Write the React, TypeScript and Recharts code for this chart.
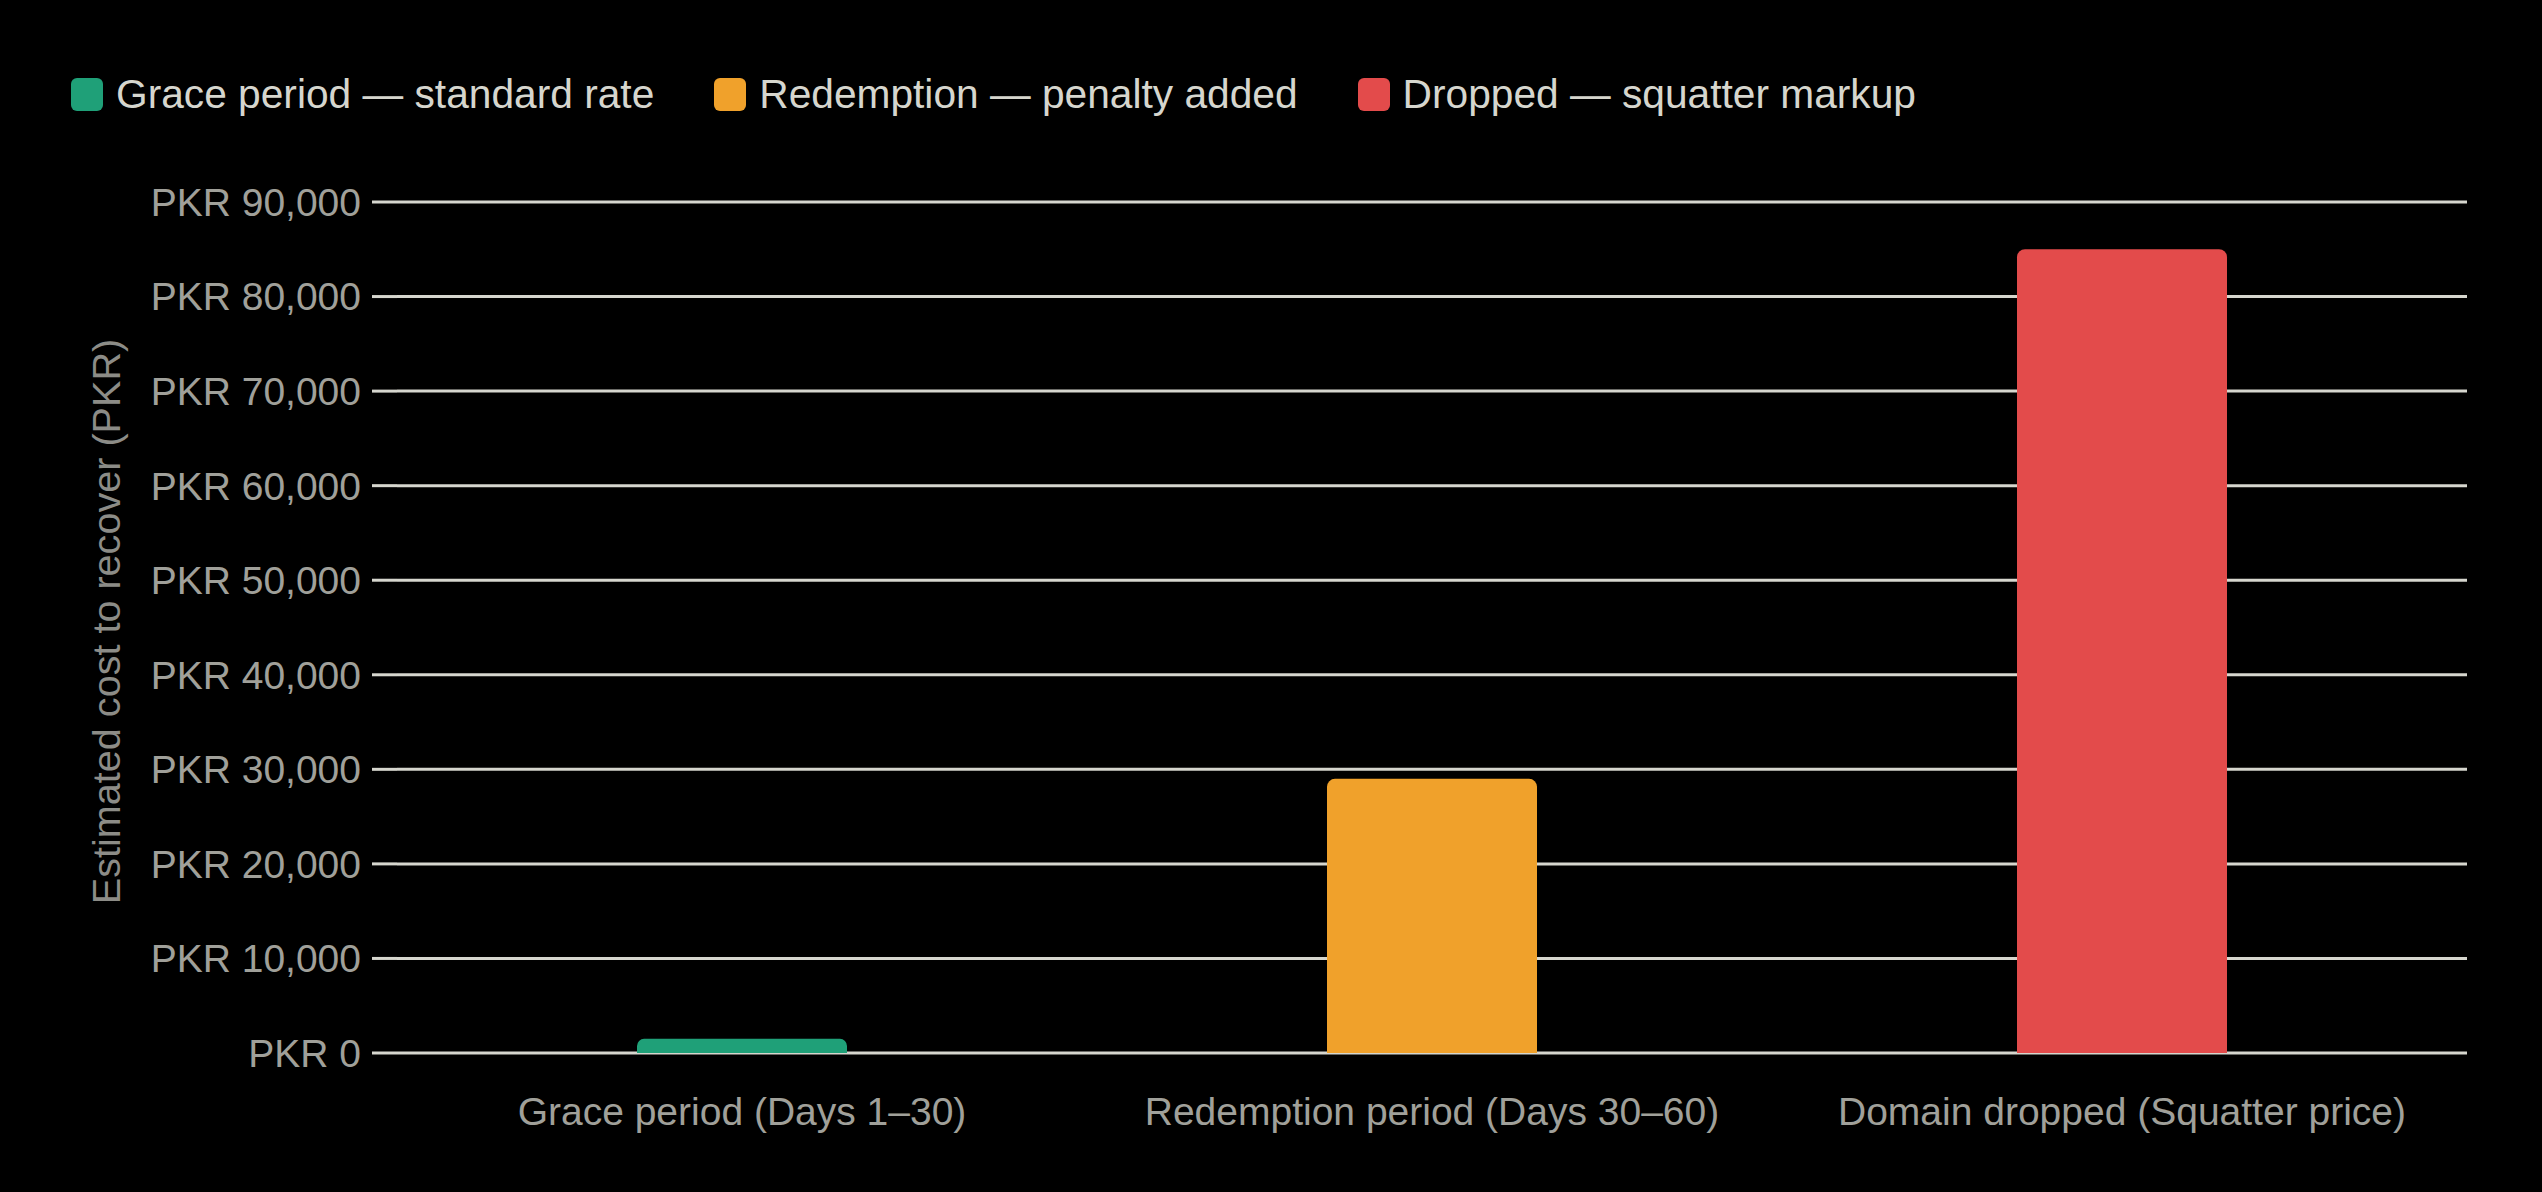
import React from 'react';
import { BarChart, Bar, XAxis, YAxis, CartesianGrid, Legend } from 'recharts';

const stages = [
  'Grace period (Days 1–30)',
  'Redemption period (Days 30–60)',
  'Domain dropped (Squatter price)',
];
const seriesKeys = ['grace', 'redemption', 'dropped'];
const seriesNames = [
  'Grace period — standard rate',
  'Redemption — penalty added',
  'Dropped — squatter markup',
];
const seriesColors = ['#1fa078', '#f0a12b', '#e34b4b'];
// estimated cost (PKR) for each stage
const recoveryCost = [1500, 29000, 85000];
const yTicks = [0, 10000, 20000, 30000, 40000, 50000, 60000, 70000, 80000, 90000];

// one row per stage, the value only sits in that stage's own series
const data = stages.map((stage, i) => {
  const row: Record<string, string | number> = { stage };
  seriesKeys.forEach((key, j) => {
    row[key] = i === j ? recoveryCost[i] : 0;
  });
  return row;
});

const FONT = '"Liberation Sans", Arial, Helvetica, sans-serif';
const GRID = '#d6d6ce';
const TICK_TEXT = '#a0a09a';

function renderLegend() {
  return (
    <div style={{ display: 'flex', alignItems: 'center', fontFamily: FONT, whiteSpace: 'nowrap' }}>
      {seriesNames.map((name, i) => (
        <div key={name} style={{ display: 'flex', alignItems: 'center', marginRight: 60 }}>
          <span
            style={{
              display: 'inline-block',
              width: 32,
              height: 33,
              borderRadius: 6,
              background: seriesColors[i],
              marginRight: 13,
            }}
          />
          <span style={{ fontSize: 40.7, lineHeight: '33px', color: '#d6d6ce' }}>{name}</span>
        </div>
      ))}
    </div>
  );
}

export default function App() {
  return (
    <div style={{ position: 'fixed', left: 0, top: 0, width: 2542, height: 1192, background: '#000' }}>
      <BarChart
        width={2542}
        height={1192}
        data={data}
        margin={{ top: 202, right: 75, bottom: 39, left: 0 }}
      >
        <CartesianGrid vertical={false} stroke={GRID} strokeWidth={3} />
        <XAxis
          dataKey="stage"
          height={100}
          interval={0}
          axisLine={false}
          tickLine={false}
          tickSize={0}
          tickMargin={44}
          tick={{ fill: TICK_TEXT, fontSize: 39, fontFamily: FONT }}
        />
        <YAxis
          width={397}
          domain={[0, 90000]}
          ticks={yTicks}
          interval={0}
          axisLine={false}
          tickLine={{ stroke: GRID, strokeWidth: 3 }}
          tickSize={25}
          tickMargin={11}
          tick={{ fill: TICK_TEXT, fontSize: 39, fontFamily: FONT }}
          tickFormatter={(v: number) => `PKR ${v.toLocaleString('en-US')}`}
          label={{
            value: 'Estimated cost to recover (PKR)',
            angle: -90,
            position: 'insideLeft',
            offset: 106,
            dy: -6,
            style: { textAnchor: 'middle', fill: '#8c8c87', fontSize: 39.6, fontFamily: FONT },
          }}
        />
        <Legend
          verticalAlign="middle"
          align="center"
          layout="horizontal"
          wrapperStyle={{ top: 78, left: 71, width: 'auto' }}
          content={renderLegend}
        />
        {seriesKeys.map((key, i) => (
          <Bar
            key={key}
            dataKey={key}
            name={seriesNames[i]}
            stackId="cost"
            fill={seriesColors[i]}
            barSize={210}
            radius={[8, 8, 0, 0]}
            isAnimationActive={false}
          />
        ))}
      </BarChart>
    </div>
  );
}
